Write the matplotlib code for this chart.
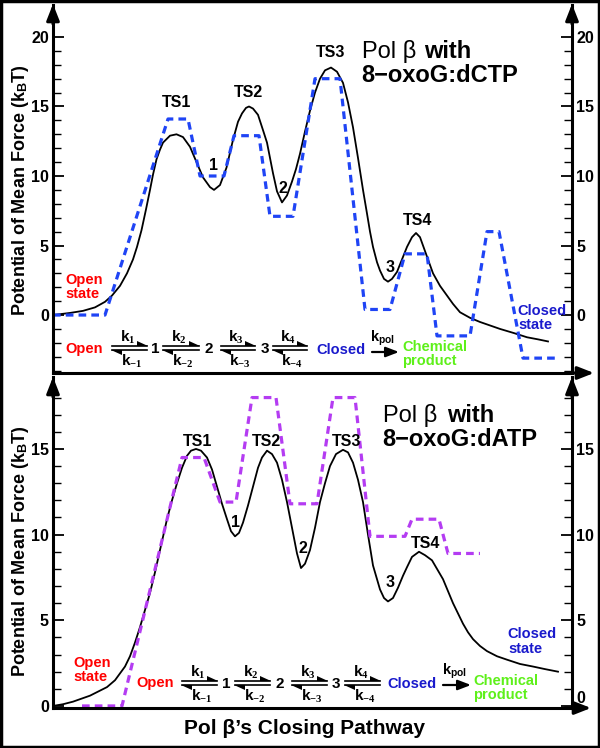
import matplotlib.pyplot as plt
from matplotlib.lines import Line2D
from matplotlib.patches import Polygon, Rectangle, FancyArrowPatch
from matplotlib.ticker import FixedLocator

plt.rcParams['font.family'] = ['Liberation Sans', 'DejaVu Sans']
plt.rcParams['mathtext.fontset'] = 'custom'
plt.rcParams['mathtext.rm'] = 'Liberation Serif:bold'
plt.rcParams['mathtext.it'] = 'Liberation Serif:bold'
plt.rcParams['mathtext.bf'] = 'Liberation Sans:bold'

# reaction coordinate is arbitrary: 0 = left axis, 103.8 = right axis
# top panel: Pol beta with 8-oxoG:dCTP
top_pmf_x = [0, 3.4, 6.0, 8.4, 10.4, 11.8, 13.4, 14.8, 16.0, 16.8, 17.7, 18.6, 19.4,
             20.0, 20.7, 21.4, 22.0, 23.4, 24.7, 26.0, 27.4, 28.7, 30.0, 31.4, 32.2,
             33.4, 34.7, 36.0, 37.0, 37.8, 38.6, 39.2, 40.0, 41.0, 42.0, 42.8, 43.4,
             44.0, 44.8, 45.8, 46.8, 47.8, 48.6, 49.4, 50.4, 51.4, 52.4, 53.4, 54.4,
             55.6, 56.8, 58.0, 59.0, 60.0, 61.0, 62.0, 62.8, 63.4, 64.0, 64.8, 65.4,
             66.2, 67.0, 67.8, 68.8, 69.8, 70.8, 71.8, 72.6, 73.4, 74.0, 75.0, 76.0,
             77.4, 78.8, 80.0, 81.4, 83.4, 85.4, 87.4, 89.4, 92.2, 94.8, 97.0, 99.0]
top_pmf_y = [0, 0.15, 0.3, 0.55, 0.95, 1.4, 2.1, 3.0, 4.0, 4.9, 6.1, 7.6, 9.0,
             10.1, 11.2, 11.9, 12.4, 12.9, 13.0, 12.8, 12.1, 11.0, 9.9, 9.2, 9.0,
             9.35, 10.6, 12.6, 13.9, 14.5, 14.9, 15.0, 14.85, 14.4, 13.3, 12.4, 11.3,
             10.2, 8.9, 8.1, 8.6, 9.6, 10.5, 11.6, 13.2, 14.7, 16.0, 17.0, 17.6,
             17.8, 17.5, 16.7, 15.3, 13.5, 11.3, 9.0, 7.3, 6.0, 4.9, 3.8, 3.2,
             2.6, 2.4, 2.6, 3.1, 4.0, 4.9, 5.6, 5.9, 5.6, 5.0, 4.0, 3.0,
             2.1, 1.4, 0.8, 0.2, -0.2, -0.5, -0.75, -1.0, -1.3, -1.6, -1.75, -1.9]
top_kin_x = [0, 10.4, 23.0, 27.0, 29.4, 34.2, 36.2, 41.2, 43.4, 48.0, 52.4, 57.4,
             62.4, 67.4, 70.4, 74.8, 76.8, 83.4, 86.8, 89.2, 94.0, 100.4]
top_kin_y = [0, 0, 14.1, 14.1, 10.0, 10.0, 12.9, 12.9, 7.1, 7.1, 17.0, 17.0,
             0.4, 0.4, 4.4, 4.4, -1.5, -1.5, 6.0, 6.0, -3.1, -3.1]

# bottom panel: Pol beta with 8-oxoG:dATP
bot_pmf_x = [0, 2.0, 4.0, 7.4, 10.8, 12.4, 13.4, 14.4, 15.4, 16.4, 17.4, 18.4, 19.4,
             20.4, 21.4, 22.8, 23.8, 24.8, 25.8, 26.8, 27.6, 28.6, 29.6, 30.8, 31.8,
             32.8, 33.8, 34.8, 35.6, 36.4, 37.2, 38.0, 39.0, 40.0, 41.0, 41.8, 42.8,
             43.8, 44.8, 45.8, 46.8, 47.8, 48.8, 49.6, 50.4, 51.4, 52.4, 53.4, 54.4,
             55.4, 56.6, 58.0, 59.0, 60.0, 61.0, 62.0, 63.0, 64.0, 64.8, 65.4, 66.2,
             67.0, 68.0, 69.0, 70.0, 70.8, 71.8, 73.2, 74.4, 75.8, 76.8, 78.0, 79.0,
             80.0, 81.0, 82.0, 83.0, 84.0, 85.4, 86.8, 88.8, 90.8, 93.4, 96.0, 98.4,
             101.0]
bot_pmf_y = [0, 0.1, 0.25, 0.6, 1.1, 1.5, 1.9, 2.3, 2.9, 3.7, 4.6, 5.6, 6.6,
             7.8, 9.1, 10.9, 12.0, 13.0, 13.9, 14.6, 14.9, 15.0, 14.9, 14.5, 13.8,
             12.8, 11.8, 10.9, 10.2, 9.9, 10.1, 10.7, 11.7, 12.8, 13.9, 14.5, 14.9,
             14.7, 14.2, 13.2, 11.9, 10.4, 8.9, 8.05, 8.3, 9.1, 10.4, 11.9, 13.0,
             14.0, 14.7, 14.95, 14.8, 14.2, 13.2, 11.9, 10.0, 8.2, 7.4, 6.8, 6.3,
             6.1, 6.3, 6.9, 7.6, 8.1, 8.7, 9.0, 8.8, 8.5, 8.0, 7.4, 6.7,
             6.0, 5.4, 4.8, 4.3, 3.9, 3.5, 3.2, 2.9, 2.7, 2.45, 2.3, 2.15,
             2.0]
bot_kin_x = [5.8, 13.8, 25.8, 30.2, 33.4, 36.6, 39.8, 44.6, 47.4, 52.8, 56.0,
             60.4, 63.4, 70.4, 71.8, 77.2, 79.0, 85.4]
bot_kin_y = [0, 0, 14.5, 14.5, 11.9, 11.9, 18.0, 18.0, 11.8, 11.8, 18.0,
             18.0, 9.9, 9.9, 10.9, 10.9, 8.9, 8.9]

top_ticks = [0, 5, 10, 15, 20]
bot_ticks = [0, 5, 10, 15]

RED = '#ff0000'
DBLUE = '#1a1acc'
GREEN = '#5ef01a'
W, H = 600, 748

fig = plt.figure(figsize=(W / 100, H / 100), dpi=100)


def P(x, y):
    return x / W, 1 - y / H


def txt(x, y, s, **kw):
    kw.setdefault('fontweight', 'bold')
    kw.setdefault('va', 'baseline')
    fig.text(x / W, 1 - y / H, s, **kw)


def arrow(x0, y0, x1, y1, lw=2.2, hl=1.4, hw=0.55, ms=7):
    a = FancyArrowPatch(P(x0, y0), P(x1, y1), transform=fig.transFigure,
                        arrowstyle=f'-|>,head_length={hl},head_width={hw}',
                        mutation_scale=ms, lw=lw, color='black',
                        shrinkA=0, shrinkB=0)
    fig.add_artist(a)


def harpoons(x0, x1, y, ktop, kbot):
    yu, yl = y - 1.6, y + 1.6
    for ya in (yu, yl):
        fig.add_artist(Line2D([x0 / W, x1 / W], [1 - ya / H] * 2,
                              transform=fig.transFigure, color='black', lw=1.2))
    fig.add_artist(Polygon([P(x1 + 1, yu), P(x1 - 10, yu), P(x1 - 10, yu - 5)],
                           closed=True, transform=fig.transFigure, color='black', lw=0))
    fig.add_artist(Polygon([P(x0 - 1, yl), P(x0 + 10, yl), P(x0 + 10, yl + 5)],
                           closed=True, transform=fig.transFigure, color='black', lw=0))
    mid = (x0 + x1) / 2
    txt(mid - 2, y - 6, ktop, ha='center', fontsize=11)
    txt(mid + 2, y + 18, kbot, ha='center', fontsize=11)


def setup(ax, ylo, yhi, majors, minor_top):
    ax.set_xlim(0, 103.8)
    ax.set_ylim(ylo, yhi)
    ax.spines['top'].set_visible(False)
    for s in ('left', 'right', 'bottom'):
        ax.spines[s].set_linewidth(2.2)
    ax.set_xticks([])
    ax.yaxis.set_major_locator(FixedLocator(majors))
    ax.yaxis.set_minor_locator(FixedLocator(list(range(int(round(ylo + 0.2)), minor_top + 1))))
    ax.tick_params(axis='y', which='both', left=True, right=True,
                   labelleft=True, labelright=True, direction='in')
    ax.tick_params(axis='y', which='major', length=8, width=1.3, pad=3,
                   labelsize=11.5)
    ax.tick_params(axis='y', which='minor', length=5.5, width=1.0)
    ax.patch.set_alpha(0)


# top panel
ax1 = fig.add_axes([53 / W, 1 - 373 / H, 519 / W, 368 / H])
setup(ax1, -4.17, 22.3, top_ticks, 20)
ax1.plot(top_pmf_x, top_pmf_y, color='black', lw=1.3)
ax1.plot(top_kin_x, top_kin_y, color='#1f44f5', lw=2.3, ls=(0, (2.4, 1.6)))

# bottom panel
ax2 = fig.add_axes([53 / W, 1 - 708 / H, 519 / W, 331 / H])
setup(ax2, -0.12, 19.2, bot_ticks, 18)
ax2.plot(bot_pmf_x, bot_pmf_y, color='black', lw=1.3)
ax2.plot(bot_kin_x, bot_kin_y, color='#b43cf2', lw=2.3, ls=(0, (2.4, 1.6)))

for ax in (ax1, ax2):
    for t in ax.yaxis.get_major_ticks():
        t.label1.set_fontweight('bold')
        t.label2.set_fontweight('bold')
# lift the right-hand 0 of the lower panel off the arrow
ax2.yaxis.get_major_ticks()[0].label2.set_va('bottom')

# axis arrows
for x, top in ((53, 4), (572, 4), (53, 377), (572, 377)):
    arrow(x, top + 20, x, top)
arrow(565, 373, 594, 373)
arrow(565, 708, 591, 708)

# axis titles
ylab = r'Potential of Mean Force (k$_\mathbf{B}$T)'
fig.text(21 / W, 1 - 190 / H, ylab, rotation=90, ha='center', va='center',
         fontsize=13, fontweight='bold')
fig.text(21 / W, 1 - 551 / H, ylab, rotation=90, ha='center', va='center',
         fontsize=13, fontweight='bold')
txt(305, 734, 'Pol β’s Closing Pathway', ha='center', fontsize=15)

# top annotations
txt(362, 58, 'Pol β', fontsize=17, fontweight='normal')
txt(424, 58, 'with', fontsize=17)
txt(361, 82, '8−oxoG:dCTP', fontsize=17)
for x, y, s in ((177, 107, 'TS1'), (249, 97, 'TS2'), (331, 57, 'TS3'), (418, 225, 'TS4'),
                (213, 170, '1'), (283, 193, '2'), (390, 272, '3')):
    txt(x, y, s, ha='center', fontsize=11.5)
txt(65, 284, 'Open', color=RED, fontsize=10.5)
txt(65, 298, 'state', color=RED, fontsize=10.5)
txt(517, 315, 'Closed', color=DBLUE, fontsize=10.5)
txt(518, 329, 'state', color=DBLUE, fontsize=10.5)

# top scheme
ys = 348
txt(65, ys + 5, 'Open', color=RED, fontsize=10.5)
harpoons(112, 147, ys, r'k$_1$', r'k$_{-1}$')
txt(155, ys + 5, '1', ha='center', fontsize=11)
harpoons(163, 199, ys, r'k$_2$', r'k$_{-2}$')
txt(209, ys + 5, '2', ha='center', fontsize=11)
harpoons(221, 255, ys, r'k$_3$', r'k$_{-3}$')
txt(265, ys + 5, '3', ha='center', fontsize=11)
harpoons(273, 307, ys, r'k$_4$', r'k$_{-4}$')
txt(316, ys + 6, 'Closed', color=DBLUE, fontsize=10.5)
txt(370, 342, r'k$_\mathbf{pol}$', fontsize=10.5)
arrow(372, ys + 4, 399, ys + 4, lw=1.6, hl=1.3, hw=0.5, ms=6)
txt(402, 351, 'Chemical', color=GREEN, fontsize=10.5)
txt(402, 365, 'product', color=GREEN, fontsize=10.5)

# bottom annotations
txt(383, 422, 'Pol β', fontsize=17, fontweight='normal')
txt(447, 422, 'with', fontsize=17)
txt(382, 446, '8−oxoG:dATP', fontsize=17)
for x, y, s in ((198, 446, 'TS1'), (267, 446, 'TS2'), (347, 446, 'TS3'), (426, 548, 'TS4'),
                (235, 527, '1'), (303, 553, '2'), (390, 587, '3')):
    txt(x, y, s, ha='center', fontsize=11.5)
txt(73, 667, 'Open', color=RED, fontsize=10.5)
txt(73, 681, 'state', color=RED, fontsize=10.5)
txt(507, 638, 'Closed', color=DBLUE, fontsize=10.5)
txt(508, 653, 'state', color=DBLUE, fontsize=10.5)

yb = 683
txt(136, yb + 4, 'Open', color=RED, fontsize=10.5)
harpoons(182, 217, yb, r'k$_1$', r'k$_{-1}$')
txt(226, yb + 5, '1', ha='center', fontsize=11)
harpoons(235, 270, yb, r'k$_2$', r'k$_{-2}$')
txt(280, yb + 5, '2', ha='center', fontsize=11)
harpoons(292, 327, yb, r'k$_3$', r'k$_{-3}$')
txt(336, yb + 5, '3', ha='center', fontsize=11)
harpoons(345, 380, yb, r'k$_4$', r'k$_{-4}$')
txt(387, yb + 5, 'Closed', color=DBLUE, fontsize=10.5)
txt(442, 675, r'k$_\mathbf{pol}$', fontsize=10.5)
arrow(443, yb + 2, 471, yb + 2, lw=1.6, hl=1.3, hw=0.5, ms=6)
txt(473, 685, 'Chemical', color=GREEN, fontsize=10.5)
txt(473, 699, 'product', color=GREEN, fontsize=10.5)

# outer frame
fig.add_artist(Rectangle((0.002, 0.002), 0.996, 0.996, transform=fig.transFigure,
                         fill=False, lw=2.5, color='black'))

fig.savefig('out.png', dpi=100)
